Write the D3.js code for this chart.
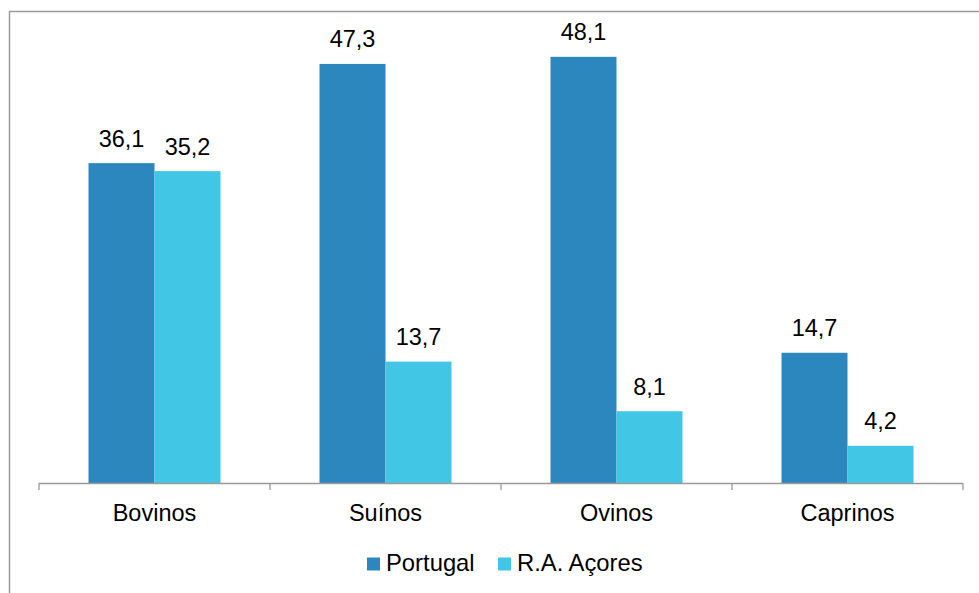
<!DOCTYPE html>
<html>
<head>
<meta charset="utf-8">
<script src="https://cdn.jsdelivr.net/npm/d3@7/dist/d3.min.js"></script>
<style>
  html, body { margin: 0; padding: 0; background: #fff; }
  svg { display: block; font-family: "Liberation Sans", Arial, sans-serif; }
</style>
</head>
<body>
<svg id="chart" width="979" height="593"></svg>
<script>
// Livestock categories and the two series shown per category
const categories = ["Bovinos", "Suínos", "Ovinos", "Caprinos"];
const seriesNames = ["Portugal", "R.A. Açores"];
const portugalValues = [36.1, 47.3, 48.1, 14.7];
const acoresValues = [35.2, 13.7, 8.1, 4.2];
const seriesColors = ["#2C87BE", "#42C6E5"];

const svg = d3.select("#chart");
const W = 979, H = 593;
const FONT = 23.5;

// Outer frame (runs past the right and bottom edges)
svg.append("rect")
  .attr("x", 9.5).attr("y", 11.5)
  .attr("width", W + 20).attr("height", H + 20)
  .attr("fill", "none").attr("stroke", "#9a9a9a").attr("stroke-width", 1.5);

const plot = { left: 39, right: 963, top: 40, bottom: 483 };

const x = d3.scaleBand()
  .domain(categories)
  .range([plot.left, plot.right])
  .paddingInner(0)
  .paddingOuter(0);

const x1 = d3.scaleBand()
  .domain(seriesNames)
  .range([0, x.bandwidth()])
  .paddingInner(0)
  .paddingOuter(0.75);

const y = d3.scaleLinear().domain([0, 50]).range([plot.bottom, plot.top]);

const rows = categories.map((c, i) => ({
  category: c,
  values: [
    { series: seriesNames[0], value: portugalValues[i], color: seriesColors[0] },
    { series: seriesNames[1], value: acoresValues[i], color: seriesColors[1] }
  ]
}));

const fmt = v => d3.format(".1f")(v).replace(".", ",");

const groups = svg.append("g").selectAll("g")
  .data(rows).join("g")
  .attr("transform", d => `translate(${x(d.category)},0)`);

groups.selectAll("rect")
  .data(d => d.values).join("rect")
  .attr("x", d => x1(d.series))
  .attr("y", d => y(d.value))
  .attr("width", x1.bandwidth())
  .attr("height", d => y(0) - y(d.value))
  .attr("fill", d => d.color);

groups.selectAll("text")
  .data(d => d.values).join("text")
  .attr("x", d => x1(d.series) + x1.bandwidth() / 2)
  .attr("y", d => y(d.value) - 16.5)
  .attr("text-anchor", "middle")
  .attr("font-size", FONT)
  .attr("fill", "#000")
  .text(d => fmt(d.value));

// Category axis with ticks at the band boundaries
const axisG = svg.append("g");
axisG.append("line")
  .attr("x1", plot.left).attr("x2", plot.right)
  .attr("y1", plot.bottom + 0.5).attr("y2", plot.bottom + 0.5)
  .attr("stroke", "#9a9a9a").attr("stroke-width", 1.3);

const boundaries = categories.map(c => x(c)).concat([x(categories[categories.length - 1]) + x.bandwidth()]);
axisG.selectAll("line.tick")
  .data(boundaries).join("line")
  .attr("class", "tick")
  .attr("x1", d => d).attr("x2", d => d)
  .attr("y1", plot.bottom).attr("y2", plot.bottom + 7)
  .attr("stroke", "#9a9a9a").attr("stroke-width", 1.3);

axisG.selectAll("text")
  .data(categories).join("text")
  .attr("x", d => x(d) + x.bandwidth() / 2)
  .attr("y", 520.5)
  .attr("text-anchor", "middle")
  .attr("font-size", FONT)
  .attr("fill", "#000")
  .text(d => d);

// Legend
const legendItems = [
  { name: seriesNames[0], color: seriesColors[0], x: 367 },
  { name: seriesNames[1], color: seriesColors[1], x: 498 }
];
const legend = svg.append("g");
legend.selectAll("rect")
  .data(legendItems).join("rect")
  .attr("x", d => d.x).attr("y", 557.5)
  .attr("width", 13).attr("height", 13)
  .attr("fill", d => d.color);
legend.selectAll("text")
  .data(legendItems).join("text")
  .attr("x", d => d.x + 19)
  .attr("y", 570.5)
  .attr("font-size", 23.8)
  .attr("fill", "#000")
  .text(d => d.name);
</script>
</body>
</html>
